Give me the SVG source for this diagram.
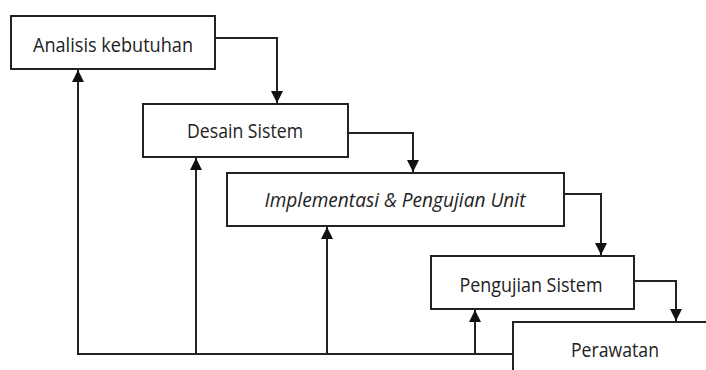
<svg xmlns="http://www.w3.org/2000/svg" width="706" height="370" viewBox="0 0 706 370">
<style>
.box{fill:#fff;stroke:#222;stroke-width:2}
.lbl{font-family:"Open Sans","Liberation Sans",sans-serif;font-size:20px;fill:#222;text-anchor:middle}
.c{fill:none;stroke:#222;stroke-width:2}
</style>
<defs>
<marker id="ah" viewBox="0 0 10 10" refX="10" refY="5" markerWidth="6" markerHeight="6" markerUnits="strokeWidth" orient="auto">
<path d="M0,0 L10,5 L0,10 z" fill="#111"/>
</marker>
</defs>
<g id="connectors">
<path class="c" d="M215,38 H277 V103" marker-end="url(#ah)"/>
<path class="c" d="M348,133 H413 V172" marker-end="url(#ah)"/>
<path class="c" d="M564,194 H601 V255" marker-end="url(#ah)"/>
<path class="c" d="M634,281 H676 V321" marker-end="url(#ah)"/>
<path class="c" d="M513,354 H78 V70" marker-end="url(#ah)"/>
<path class="c" d="M196,354 V158" marker-end="url(#ah)"/>
<path class="c" d="M327,354 V227" marker-end="url(#ah)"/>
<path class="c" d="M475,354 V310" marker-end="url(#ah)"/>
</g>
<g id="analisis">
<rect class="box" x="11" y="16" width="204" height="53"/>
<text class="lbl" x="113" y="52" textLength="160" lengthAdjust="spacingAndGlyphs">Analisis kebutuhan</text>
</g>
<g id="desain">
<rect class="box" x="143" y="104" width="205" height="53"/>
<text class="lbl" x="245" y="138" textLength="116" lengthAdjust="spacingAndGlyphs">Desain Sistem</text>
</g>
<g id="implementasi">
<rect class="box" x="227" y="173" width="337" height="53"/>
<text class="lbl" x="395" y="207" font-style="italic" textLength="261" lengthAdjust="spacingAndGlyphs">Implementasi &amp; Pengujian Unit</text>
</g>
<g id="pengujian">
<rect class="box" x="431" y="256" width="203" height="53"/>
<text class="lbl" x="531" y="292" textLength="143" lengthAdjust="spacingAndGlyphs">Pengujian Sistem</text>
</g>
<g id="perawatan">
<rect class="box" x="513" y="322" width="230" height="80"/>
<text class="lbl" x="615" y="357" textLength="88" lengthAdjust="spacingAndGlyphs">Perawatan</text>
</g>
</svg>
